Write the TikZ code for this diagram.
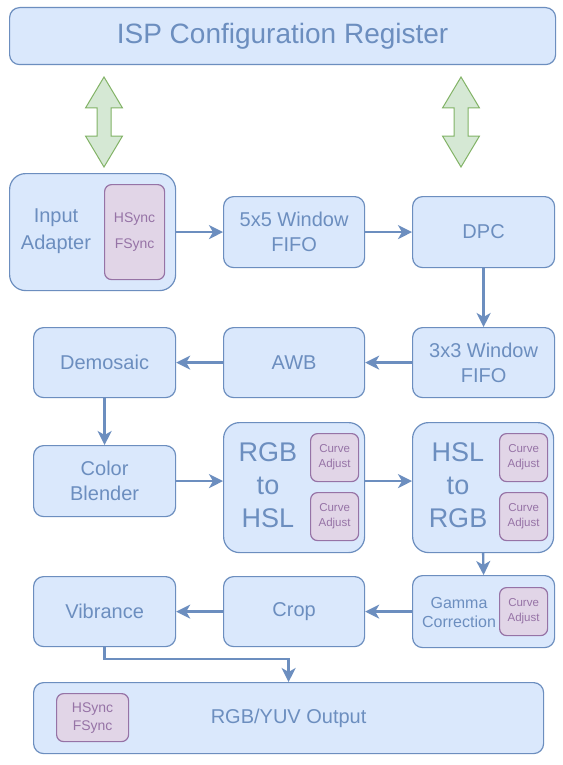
\documentclass[tikz,border=0pt]{standalone}
\usepackage{fontspec}
\setmainfont{Liberation Sans}
\usetikzlibrary{arrows.meta}
\definecolor{bfill}{HTML}{DAE8FC}
\definecolor{bline}{HTML}{6C8EBF}
\definecolor{pfill}{HTML}{E1D5E7}
\definecolor{pline}{HTML}{9673A6}
\definecolor{gfill}{HTML}{D5E8D4}
\definecolor{gline}{HTML}{82B366}
\begin{document}
\begin{tikzpicture}[x=1pt,y=-1pt,
 blk/.style={draw=bline, fill=bfill, line width=1.2pt, rounded corners=10pt, anchor=north west, inner sep=0pt, text=bline, align=center, font=\fontsize{20}{25}\selectfont},
 pblk/.style={draw=pline, fill=pfill, line width=1.2pt, rounded corners=7pt, anchor=north west, inner sep=0pt, text=pline, align=center, font=\fontsize{11.5}{15}\selectfont},
 lbl/.style={text=bline, align=center, inner sep=0pt},
 flow/.style={draw=bline, line width=2.3pt, -{Stealth[length=14pt,width=14pt,inset=4pt]}},
 garrow/.style={draw=gline, fill=gfill, line width=1pt, line join=miter}
]
\useasboundingbox (0,0) rectangle (562,765);
\fill[white] (0,0) rectangle (562,765);

\node[blk, minimum width=546pt, minimum height=57pt, font=\fontsize{28}{32}\selectfont] (cfg) at (9,7) {ISP Configuration Register};

\foreach \cx in {104,461}{
  \draw[garrow] (\cx,77) -- (\cx+18.5,108) -- (\cx+7,108) -- (\cx+7,136) -- (\cx+18.5,136) -- (\cx,167) -- (\cx-18.5,136) -- (\cx-7,136) -- (\cx-7,108) -- (\cx-18.5,108) -- cycle;
}

\node[blk, minimum width=166pt, minimum height=117pt, rounded corners=16pt] (ia) at (9,173) {};
\node[pblk, minimum width=60pt, minimum height=95pt, font=\fontsize{14}{26}\selectfont] (iasync) at (104,184) {HSync\\FSync};
\node[lbl, font=\fontsize{20}{27}\selectfont] (ialbl) at (56,231.5) {Input\\Adapter};

\node[blk, minimum width=141pt, minimum height=71pt] (fifo5) at (223,196) {5x5 Window\\FIFO};
\node[blk, minimum width=142pt, minimum height=71pt] (dpc) at (412,196) {DPC};
\node[blk, minimum width=142pt, minimum height=70pt] (fifo3) at (412,327) {3x3 Window\\FIFO};
\node[blk, minimum width=141pt, minimum height=70pt] (awb) at (223,327) {AWB};
\node[blk, minimum width=142pt, minimum height=70pt] (demo) at (33,327) {Demosaic};
\node[blk, minimum width=142pt, minimum height=71pt] (blend) at (33,445) {Color\\Blender};

\node[blk, minimum width=141pt, minimum height=130pt, rounded corners=16pt] (rgb2hsl) at (223,422) {};
\node[lbl, font=\fontsize{27}{33}\selectfont] (rgb2hsllbl) at (268,485) {RGB\\to\\HSL};
\node[pblk, minimum width=48pt, minimum height=48pt] (ca1) at (310,433) {Curve\\Adjust};
\node[pblk, minimum width=48pt, minimum height=48pt] (ca2) at (310,492) {Curve\\Adjust};

\node[blk, minimum width=141pt, minimum height=130pt, rounded corners=16pt] (hsl2rgb) at (412,422) {};
\node[lbl, font=\fontsize{27}{33}\selectfont] (hsl2rgblbl) at (458,485) {HSL\\to\\RGB};
\node[pblk, minimum width=48pt, minimum height=48pt] (ca3) at (499,433) {Curve\\Adjust};
\node[pblk, minimum width=48pt, minimum height=48pt] (ca4) at (499,492) {Curve\\Adjust};

\node[blk, minimum width=142pt, minimum height=72pt] (gamma) at (412,575) {};
\node[lbl, font=\fontsize{16}{19}\selectfont] (gammalbl) at (459,612) {Gamma\\Correction};
\node[pblk, minimum width=48pt, minimum height=48pt] (ca5) at (499,587) {Curve\\Adjust};

\node[blk, minimum width=141pt, minimum height=70pt] (crop) at (223,576) {Crop};
\node[blk, minimum width=142pt, minimum height=70pt] (vib) at (33,576) {Vibrance};

\node[blk, minimum width=510pt, minimum height=71pt] (out) at (33,682) {RGB/YUV Output};
\node[pblk, minimum width=72pt, minimum height=48pt, font=\fontsize{14}{18}\selectfont] (outsync) at (56,693) {HSync\\FSync};

\draw[flow] (ia.east |- fifo5.west) -- (fifo5.west);
\draw[flow] (fifo5.east) -- (dpc.west);
\draw[flow] (dpc.south) -- (fifo3.north);
\draw[flow] (fifo3.west) -- (awb.east);
\draw[flow] (awb.west) -- (demo.east);
\draw[flow] (demo.south) -- (blend.north);
\draw[flow] (blend.east) -- (blend.east -| rgb2hsl.west);
\draw[flow] (rgb2hsl.east |- blend.east) -- (hsl2rgb.west |- blend.east);
\draw[flow] (hsl2rgb.south) -- (gamma.north);
\draw[flow] (gamma.west) -- (crop.east);
\draw[flow] (crop.west) -- (vib.east);
\draw[flow] (vib.south) -- ++(0,12) -| (out.north);
\end{tikzpicture}
\end{document}
